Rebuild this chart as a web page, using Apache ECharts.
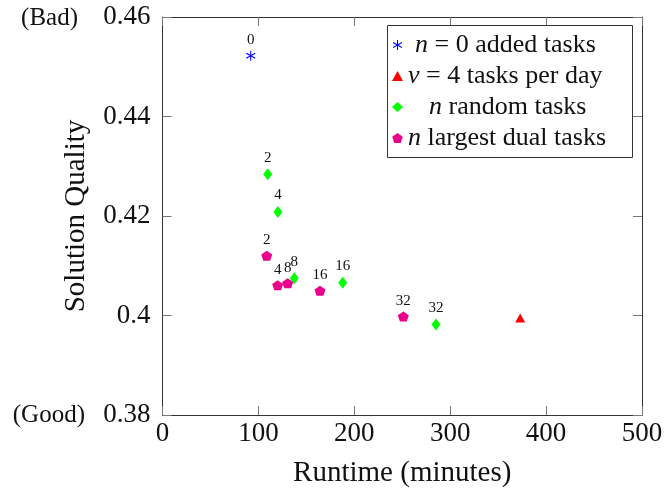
<!DOCTYPE html>
<html>
<head>
<meta charset="utf-8">
<script src="https://cdn.jsdelivr.net/npm/echarts@6/dist/echarts.min.js"></script>
<style>html,body{margin:0;padding:0;background:#fff}#c{width:665px;height:490px}</style>
</head>
<body>
<div id="c"></div>
<script>
// ---- data ----
const xTicks = [0, 100, 200, 300, 400, 500];
const yTicks = [0.38, 0.40, 0.42, 0.44, 0.46];
const seriesNames = ['n = 0 added tasks', 'v = 4 tasks per day', 'n random tasks', 'n largest dual tasks'];
const runtimeZero = [92];
const qualityZero = [0.4522];
const labelsZero = [0];
const runtimePerDay = [373];
const qualityPerDay = [0.3995];
const runtimeRandom = [109.7, 120.4, 137.4, 187.9, 285.2];
const qualityRandom = [0.4284, 0.4208, 0.4075, 0.4066, 0.3982];
const labelsRandom = [2, 4, 8, 16, 32];
const runtimeDual = [108.7, 120.1, 130.5, 164.2, 251.1];
const qualityDual = [0.4120, 0.4061, 0.4065, 0.4050, 0.3998];
const labelsDual = [2, 4, 8, 16, 32];

const FONT = 'Liberation Serif';
const STAR = 'path://M-1 -10L1 -10L1 10L-1 10Z M-9.16 -4.134L-8.16 -5.866L9.16 4.134L8.16 5.866Z M-8.16 5.866L-9.16 4.134L8.16 -5.866L9.16 -4.134Z';
const PENT = 'path://M0 -1L0.951 -0.309L0.588 0.809L-0.588 0.809L-0.951 -0.309Z';

function pts(xs, ys, ls) {
  return xs.map((x, i) => ({ value: [x, ys[i]], n: ls ? ls[i] : null }));
}
const labelCfg = {
  show: true, position: 'top', distance: 3,
  fontFamily: FONT, fontSize: 15, color: '#111',
  formatter: p => String(p.data.n)
};

const chart = echarts.init(document.getElementById('c'), null, { renderer: 'canvas' });
const axisCommonX = { type: 'value', min: xTicks[0], max: xTicks[xTicks.length - 1], interval: 100, splitLine: { show: false } };
const axisCommonY = { type: 'value', min: yTicks[0], max: yTicks[yTicks.length - 1], interval: 0.02, splitLine: { show: false } };
const lineStyle = { color: '#333', width: 1 };
const tickStyle = { show: true, inside: true, length: 9, lineStyle: { color: '#777', width: 1 } };

chart.setOption({
  animation: false,
  backgroundColor: '#fff',
  grid: { left: 162.5, right: 23, top: 17, bottom: 75, containLabel: false, outerBoundsMode: 'none' },
  xAxis: [
    Object.assign({}, axisCommonX, {
      position: 'bottom',
      axisLine: { show: true, onZero: false, lineStyle },
      axisTick: tickStyle,
      axisLabel: { fontFamily: FONT, fontSize: 27, color: '#111', margin: 5 },
      name: 'Runtime (minutes)', nameLocation: 'middle', nameGap: 44,
      nameTextStyle: { fontFamily: FONT, fontSize: 29, color: '#111' }
    }),
    Object.assign({}, axisCommonX, {
      position: 'top',
      axisLine: { show: true, onZero: false, lineStyle },
      axisTick: tickStyle,
      axisLabel: { show: false }
    })
  ],
  yAxis: [
    Object.assign({}, axisCommonY, {
      position: 'left',
      axisLine: { show: true, onZero: false, lineStyle },
      axisTick: tickStyle,
      axisLabel: { fontFamily: FONT, fontSize: 27, color: '#111', margin: 12 },
      name: 'Solution Quality', nameLocation: 'middle', nameGap: 72,
      nameTextStyle: { fontFamily: FONT, fontSize: 29, color: '#111' }
    }),
    Object.assign({}, axisCommonY, {
      position: 'right',
      axisLine: { show: true, onZero: false, lineStyle },
      axisTick: tickStyle,
      axisLabel: { show: false }
    })
  ],
  legend: {
    orient: 'vertical', left: 392, top: 30, padding: 0, itemGap: 1,
    itemWidth: 11, itemHeight: 10, z: 6,
    data: seriesNames,
    formatter: function (name) {
      if (name === seriesNames[0]) return '{p1| }{i|n} = 0 added tasks';
      if (name === seriesNames[1]) return '{i|v} = 4 tasks per day';
      if (name === seriesNames[2]) return '{p3| }{i|n} random tasks';
      return '{i|n} largest dual tasks';
    },
    textStyle: {
      fontFamily: FONT, fontSize: 26, color: '#111', lineHeight: 30,
      rich: {
        i: { fontFamily: FONT, fontSize: 26, fontStyle: 'italic', color: '#111', lineHeight: 30 },
        p1: { width: 7, fontSize: 26, lineHeight: 30 },
        p3: { width: 21, fontSize: 26, lineHeight: 30 }
      }
    }
  },
  graphic: [
    { type: 'rect', z: 3, shape: { x: 387.5, y: 25.5, width: 245, height: 132 },
      style: { fill: '#fff', stroke: '#333', lineWidth: 1 } },
    { type: 'text', z: 3, x: 78, y: 18,
      style: { text: '(Bad)', fontFamily: FONT, fontSize: 25, fill: '#111', align: 'right', verticalAlign: 'middle' } },
    { type: 'text', z: 3, x: 85, y: 415,
      style: { text: '(Good)', fontFamily: FONT, fontSize: 25, fill: '#111', align: 'right', verticalAlign: 'middle' } }
  ],
  series: [
    { name: seriesNames[0], type: 'scatter', symbol: STAR, symbolSize: [9.5, 10],
      itemStyle: { color: '#0000ff', opacity: 1 }, data: pts(runtimeZero, qualityZero, labelsZero), label: labelCfg },
    { name: seriesNames[1], type: 'scatter', symbol: 'triangle', symbolSize: [10, 9],
      itemStyle: { color: '#ff0000', opacity: 1 }, data: pts(runtimePerDay, qualityPerDay, null) },
    { name: seriesNames[2], type: 'scatter', symbol: 'diamond', symbolSize: [9, 12],
      itemStyle: { color: '#00ff00', opacity: 1 }, data: pts(runtimeRandom, qualityRandom, labelsRandom), label: labelCfg },
    { name: seriesNames[3], type: 'scatter', symbol: PENT, symbolSize: [11, 10],
      itemStyle: { color: '#ea008a', opacity: 1 }, data: pts(runtimeDual, qualityDual, labelsDual), label: labelCfg }
  ]
});
</script>
</body>
</html>
